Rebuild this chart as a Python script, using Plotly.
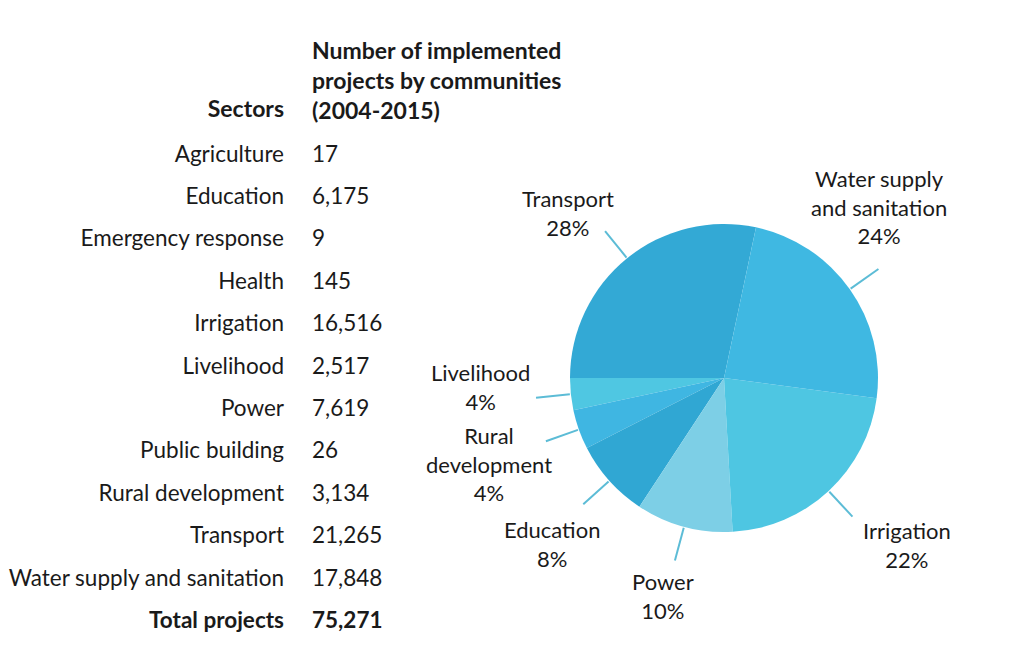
import numpy as np
import plotly.graph_objects as go

# table data
sectors = ["Agriculture", "Education", "Emergency response", "Health", "Irrigation",
           "Livelihood", "Power", "Public building", "Rural development", "Transport",
           "Water supply and sanitation"]
projects = [17, 6175, 9, 145, 16516, 2517, 7619, 26, 3134, 21265, 17848]
total_projects = 75271

# pie data (counter-clockwise from the top)
pie_labels = ["Transport", "Livelihood", "Rural development", "Education",
              "Power", "Irrigation", "Water supply and sanitation"]
pie_values = [21265, 2517, 3134, 6175, 7619, 16516, 17848]
pie_text = ["Transport<br>28%", "Livelihood<br>4%", "Rural<br>development<br>4%",
            "Education<br>8%", "Power<br>10%", "Irrigation<br>22%",
            "Water supply<br>and sanitation<br>24%"]
pie_colors = ["#33a9d5", "#4fc7e2", "#3fb6e2", "#30a7d3", "#7dcfe6", "#4ec6e2", "#3fb8e2"]

W, H = 1024, 670
CX, CY, R = 724, 378, 154
START = 12  # first slice begins this many degrees right of 12 o'clock
label_offsets = [(-37, -18), (-56, -11), (-57, 23), (-31, 40), (-12, 35), (55, 28), (1, -62)]
FONT = "Lato"
TXT = "#1a1a1a"
LINE = "#5cbcd6"

vals = np.array(pie_values, dtype=float)
frac = vals / vals.sum()

fig = go.Figure()

fig.add_pie(
    labels=pie_labels,
    values=pie_values,
    sort=False,
    direction="counterclockwise",
    rotation=START - frac[0] * 360,
    textinfo="none",
    hoverinfo="label+percent",
    marker=dict(colors=pie_colors, line=dict(width=0)),
    showlegend=False,
    domain=dict(x=[(CX - R) / W, (CX + R) / W], y=[(H - CY - R) / H, (H - CY + R) / H]),
)

# leader lines at slice mid angles
mid = np.radians(START - (np.cumsum(frac) - frac / 2) * 360)
lx, ly, ends = [], [], []
for th in mid:
    x0, y0 = CX + (R + 1) * np.sin(th), CY - (R + 1) * np.cos(th)
    x1, y1 = CX + (R + 35) * np.sin(th), CY - (R + 35) * np.cos(th)
    lx += [x0, x1, None]
    ly += [y0, y1, None]
    ends.append((x1, y1))
fig.add_scatter(x=lx, y=ly, mode="lines", line=dict(color=LINE, width=2),
                hoverinfo="skip", showlegend=False)

for (ex, ey), (dx, dy), t in zip(ends, label_offsets, pie_text):
    fig.add_annotation(x=ex + dx, y=ey + dy, text=t, showarrow=False,
                       xanchor="center", yanchor="middle", align="center",
                       font=dict(family=FONT, size=22, color=TXT))

# table
ROW0, STEP = 156, 42.4
rows_y = [ROW0 + STEP * i for i in range(len(sectors) + 1)]
names = sectors + ["<b>Total projects</b>"]
numbers = [f"{v:,}" for v in projects] + [f"<b>{total_projects:,}</b>"]
fig.add_scatter(x=[284] * len(names), y=rows_y, text=names, mode="text",
                textposition="middle left", hoverinfo="skip", showlegend=False,
                textfont=dict(family=FONT, size=22.5, color=TXT))
fig.add_scatter(x=[312] * len(numbers), y=rows_y, text=numbers, mode="text",
                textposition="middle right", hoverinfo="skip", showlegend=False,
                textfont=dict(family=FONT, size=22.5, color=TXT))
fig.add_scatter(x=[284, 312], y=[111, 83],
                text=["<b>Sectors</b>", "<b>Number of implemented<br>projects by communities<br>(2004-2015)</b>"],
                mode="text", textposition=["middle left", "middle right"],
                hoverinfo="skip", showlegend=False,
                textfont=dict(family=FONT, size=23, color=TXT))

fig.update_xaxes(range=[0, W], visible=False, fixedrange=True)
fig.update_yaxes(range=[H, 0], visible=False, fixedrange=True)
fig.update_layout(
    width=W, height=H,
    margin=dict(l=0, r=0, t=0, b=0),
    paper_bgcolor="white", plot_bgcolor="rgba(0,0,0,0)",
    font=dict(family=FONT, color=TXT),
)
fig.write_html("out.html", config={"displayModeBar": False},
               post_script="document.body.style.margin = '0';")
